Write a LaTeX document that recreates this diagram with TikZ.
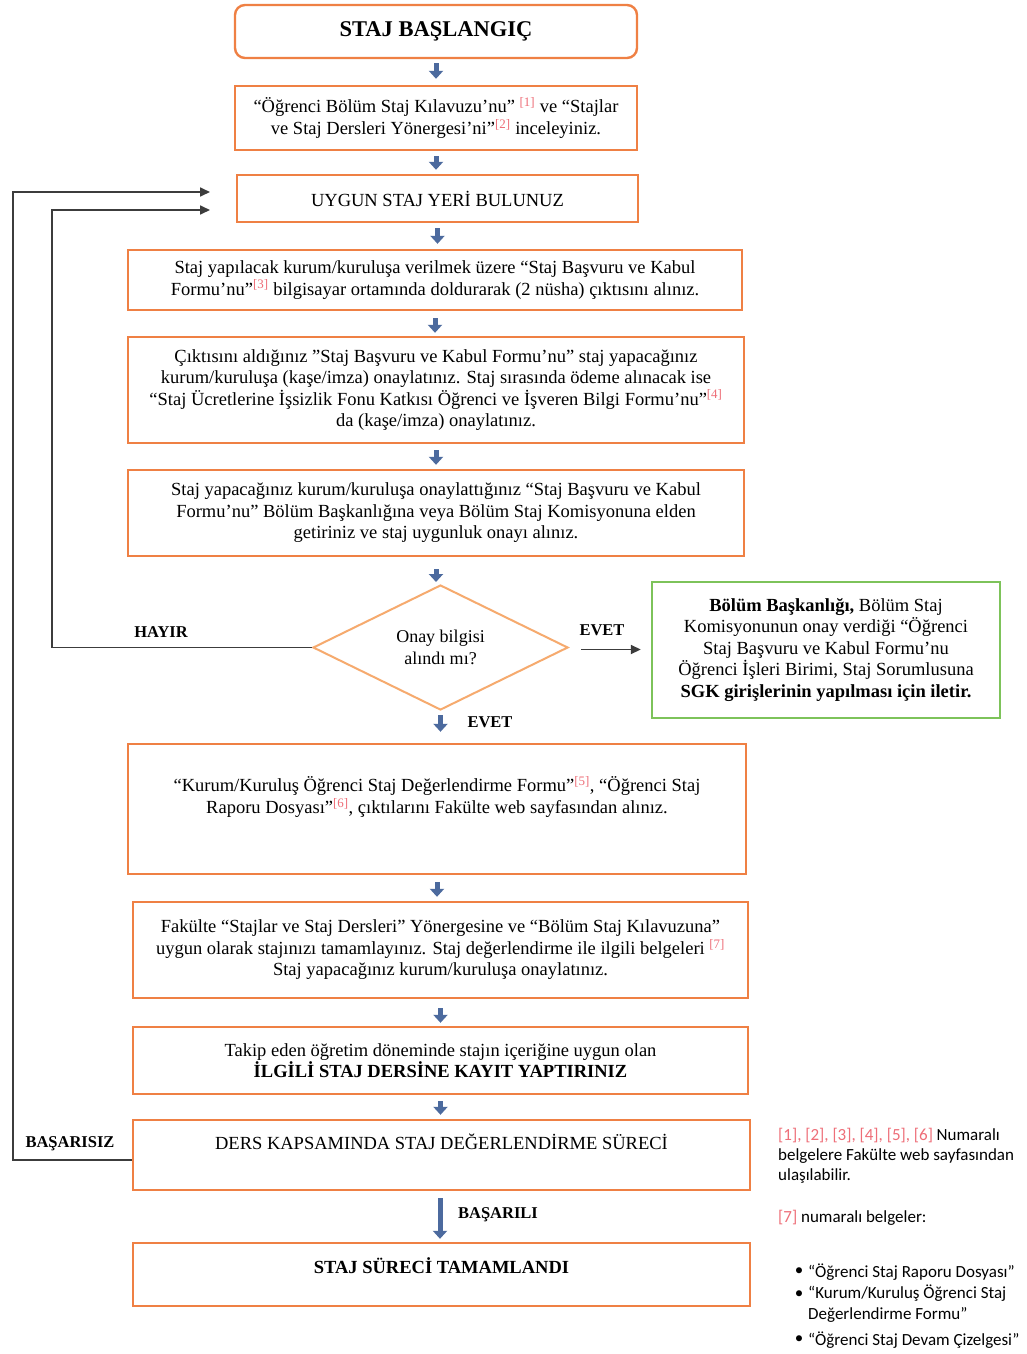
\documentclass[tikz,border=0pt]{standalone}
\usepackage{fontspec}
\setmainfont{Liberation Serif}
\newfontfamily\notefont{Carlito}
\usetikzlibrary{arrows.meta,shapes.geometric}
\definecolor{boxorange}{RGB}{239,128,68}
\definecolor{diaorange}{RGB}{246,170,110}
\definecolor{boxgreen}{RGB}{125,195,90}
\definecolor{arrowblue}{RGB}{76,106,158}
\definecolor{refred}{RGB}{238,110,120}
\definecolor{linegray}{RGB}{60,60,60}
\newcommand{\rf}[1]{\textsuperscript{\color{refred}[#1]}}
\begin{document}
\begin{tikzpicture}[x=1pt,y=-1pt,
  box/.style={draw=boxorange, line width=2.4pt, fill=white, align=center, inner sep=0pt,
    font=\fontsize{18.5}{21.5}\selectfont},
  txt/.style={align=center, inner sep=0pt, font=\fontsize{18.5}{21.5}\selectfont},
  lbl/.style={inner sep=0pt, font=\fontsize{16.5}{19}\selectfont\bfseries},
  note/.style={inner sep=0pt, align=left, font=\notefont\fontsize{17}{20}\selectfont},
  barrow/.style={draw=arrowblue, line width=5pt, -{Triangle[width=14pt,length=8pt]}},
  karrow/.style={draw=linegray, line width=1.7pt, -{Triangle[width=9pt,length=10pt]}},
  kline/.style={draw=linegray, line width=1.7pt}
]
\useasboundingbox[fill=white] (0,0) rectangle (1026,1354);

% boxes
\node[box, rounded corners=10pt, minimum width=402pt, minimum height=53pt,
  font=\fontsize{22.5}{25}\selectfont\bfseries] (b1) at (436,31.5) {STAJ BAŞLANGIÇ};
\node[box, minimum width=402pt, minimum height=64pt] (b2) at (436,118)
  {“Öğrenci Bölüm Staj Kılavuzu’nu” \rf{1} ve “Stajlar\\ ve Staj Dersleri Yönergesi’ni”\rf{2} inceleyiniz.};
\node[box, minimum width=401pt, minimum height=47pt] (b3) at (437.5,198.5) {UYGUN STAJ YERİ BULUNUZ};
\node[box, minimum width=614pt, minimum height=60pt] (b4) at (435,280)
  {Staj yapılacak kurum/kuruluşa verilmek üzere “Staj Başvuru ve Kabul\\
   Formu’nu”\rf{3} bilgisayar ortamında doldurarak (2 nüsha) çıktısını alınız.};
\node[box, minimum width=616pt, minimum height=106pt] (b5) at (436,390)
  {Çıktısını aldığınız "Staj Başvuru ve Kabul Formu’nu” staj yapacağınız\\
   kurum/kuruluşa (kaşe/imza) onaylatınız. Staj sırasında ödeme alınacak ise\\
   “Staj Ücretlerine İşsizlik Fonu Katkısı Öğrenci ve İşveren Bilgi Formu’nu”\rf{4}\\
   da (kaşe/imza) onaylatınız.};
\node[box, minimum width=616pt, minimum height=86pt] (b6) at (436,513)
  {Staj yapacağınız kurum/kuruluşa onaylattığınız “Staj Başvuru ve Kabul\\
   Formu’nu” Bölüm Başkanlığına veya Bölüm Staj Komisyonuna elden\\
   getiriniz ve staj uygunluk onayı alınız.};
\node[diamond, draw=diaorange, line width=2pt, fill=white, minimum width=255pt, minimum height=125pt,
  inner sep=0pt, align=center, font=\fontsize{18}{22}\selectfont] (dia) at (440.5,647.5)
  {Onay bilgisi\\ alındı mı?};
\node[draw=boxgreen, line width=2.4pt, fill=white, minimum width=348pt, minimum height=136pt,
  inner sep=0pt, align=center, font=\fontsize{18.5}{21.5}\selectfont] (grn) at (826,650)
  {\textbf{Bölüm Başkanlığı,} Bölüm Staj\\
   Komisyonunun onay verdiği “Öğrenci\\
   Staj Başvuru ve Kabul Formu’nu\\
   Öğrenci İşleri Birimi, Staj Sorumlusuna\\
   \textbf{SGK girişlerinin yapılması için iletir.}};
\node[box, minimum width=618pt, minimum height=130pt] (b7) at (437,809) {};
\node[txt] (t7) at (437,797)
  {“Kurum/Kuruluş Öğrenci Staj Değerlendirme Formu”\rf{5}, “Öğrenci Staj\\
   Raporu Dosyası”\rf{6}, çıktılarını Fakülte web sayfasından alınız.};
\node[box, minimum width=615pt, minimum height=96pt] (b8) at (440.5,950)
  {Fakülte “Stajlar ve Staj Dersleri” Yönergesine ve “Bölüm Staj Kılavuzuna”\\
   uygun olarak stajınızı tamamlayınız. Staj değerlendirme ile ilgili belgeleri \rf{7}\\
   Staj yapacağınız kurum/kuruluşa onaylatınız.};
\node[box, minimum width=615pt, minimum height=67pt] (b9) at (440.5,1060.5)
  {Takip eden öğretim döneminde stajın içeriğine uygun olan\\
   \textbf{İLGİLİ STAJ DERSİNE KAYIT YAPTIRINIZ}};
\node[box, minimum width=617pt, minimum height=70pt] (b10) at (441.5,1155) {};
\node[txt] (t10) at (441.5,1142) {DERS KAPSAMINDA STAJ DEĞERLENDİRME SÜRECİ};
\node[box, minimum width=617pt, minimum height=63pt] (b11) at (441.5,1274.5) {};
\node[txt, font=\fontsize{18.5}{21.5}\selectfont\bfseries] (t11) at (441.5,1266) {STAJ SÜRECİ TAMAMLANDI};

% blue arrows
\draw[barrow] ([yshift=-4pt]b1.south) -- ([yshift=6pt]b1.south |- b2.north);
\draw[barrow] ([yshift=-5pt]b2.south) -- ([yshift=4pt]b2.south |- b3.north);
\draw[barrow] ([yshift=-5pt]b3.south) -- ([yshift=5pt]b3.south |- b4.north);
\draw[barrow] ([yshift=-7pt]b4.south) -- ([yshift=3pt]b4.south |- b5.north);
\draw[barrow] ([yshift=-6pt]b5.south) -- ([yshift=4pt]b5.south |- b6.north);
\draw[barrow] ([yshift=-12pt]b6.south) -- ([yshift=2pt]b6.south |- dia.north);
\draw[barrow] ([yshift=-4pt]dia.south) -- ([yshift=11pt]dia.south |- b7.north);
\draw[barrow] ([yshift=-7pt]b7.south) -- ([yshift=4pt]b7.south |- b8.north);
\draw[barrow] ([yshift=-9pt]b8.south) -- ([yshift=3pt]b8.south |- b9.north);
\draw[barrow] ([yshift=-6pt]b9.south) -- ([yshift=4pt]b9.south |- b10.north);
\draw[barrow] ([xshift=-1.5pt,yshift=-7pt]b10.south) -- ([xshift=-1.5pt,yshift=3pt]b10.south |- b11.north);

% labels
\node[lbl] (lhayir) at (161,632) {HAYIR};
\node[lbl] (levet1) at (602,630) {EVET};
\node[lbl] (levet2) at (490,722) {EVET};
\node[lbl] (lbasarili) at (498,1215) {BAŞARILI};
\node[lbl] (lbasarisiz) at (70,1144) {BAŞARISIZ};

% feedback and side connectors
\coordinate (tipA) at (210,192);
\coordinate (tipB) at (210,210);
\draw[karrow] (dia.west) -- (52,647.5) -- (52,210) -- (tipB);
\draw[karrow] ([yshift=-5pt]b10.west) -- (13,1160) -- (13,192) -- (tipA);
\draw[karrow] ([xshift=12pt,yshift=-2pt]dia.east) -- ([xshift=-10pt,yshift=-2pt]dia.east -| grn.west);

% notes
\node[note, anchor=north west] (n1) at (778,1128)
  {{\color{refred}[1], [2], [3], [4], [5], [6]} Numaralı\\
   belgelere Fakülte web sayfasından\\
   ulaşılabilir.};
\node[note, anchor=west] (n2) at (778,1218) {{\color{refred}[7]} numaralı belgeler:};
\node[note] (bu1) at (799,1272) {•};
\node[note, anchor=west] (i1) at (808,1272) {“Öğrenci Staj Raporu Dosyası”};
\node[note] (bu2) at (799,1295) {•};
\node[note, anchor=north west, font=\notefont\fontsize{17}{21}\selectfont] (i2) at (808,1285) {“Kurum/Kuruluş Öğrenci Staj\\ Değerlendirme Formu”};
\node[note] (bu3) at (799,1340) {•};
\node[note, anchor=west] (i3) at (808,1340) {“Öğrenci Staj Devam Çizelgesi”};
\end{tikzpicture}
\end{document}
